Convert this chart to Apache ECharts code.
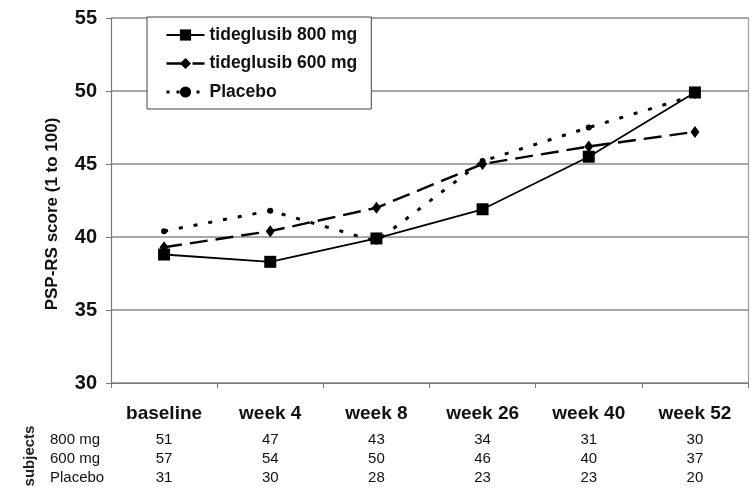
<!DOCTYPE html>
<html>
<head>
<meta charset="utf-8">
<script src="https://cdn.jsdelivr.net/npm/echarts@6/dist/echarts.min.js"></script>
<style>
html,body{margin:0;padding:0;background:#fff;}
#chart{width:754px;height:489px;}
</style>
</head>
<body>
<div id="chart"></div>
<script>
// ---- data ----
var categories = ['baseline', 'week 4', 'week 8', 'week 26', 'week 40', 'week 52'];
var tide800 = [38.8, 38.3, 39.9, 41.9, 45.5, 49.9];
var tide600 = [39.3, 40.4, 42.0, 45.0, 46.2, 47.2];
var placebo = [40.4, 41.8, 39.7, 45.2, 47.5, 49.7];
var subjects800 = ['51', '47', '43', '34', '31', '30'];
var subjects600 = ['57', '54', '50', '46', '40', '37'];
var subjectsPlacebo = ['31', '30', '28', '23', '23', '20'];
var rowLabels = ['800 mg', '600 mg', 'Placebo'];
var seriesNames = ['tideglusib 800 mg', 'tideglusib 600 mg', 'Placebo'];
var yTicks = {min: 30, max: 55, interval: 5};

var FONT = '"Liberation Sans", Arial, sans-serif';
var chart = echarts.init(document.getElementById('chart'));

var dash600 = [18, 8];
var dotPlacebo = [4, 11];

function countAxis(data, offset) {
  return {
    type: 'category', data: data, position: 'bottom', offset: offset, gridIndex: 0,
    boundaryGap: true,
    axisLine: {show: false}, axisTick: {show: false}, splitLine: {show: false},
    axisLabel: {interval: 0, margin: 8, fontSize: 15, color: '#111', fontFamily: FONT}
  };
}

var option = {
  animation: false,
  backgroundColor: '#fff',
  grid: {left: 111, right: 6, top: 18, bottom: 106, containLabel: false},
  legend: {
    orient: 'vertical', left: 147, top: 17,
    data: [
      {name: seriesNames[0]},
      {name: seriesNames[1], lineStyle: {type: dash600, width: 2.4, color: '#000'}},
      {name: seriesNames[2], lineStyle: {type: [3, 7], width: 3, color: '#000'}}
    ],
    backgroundColor: '#fff', borderColor: '#444', borderWidth: 1,
    padding: [9, 14, 8, 18], itemGap: 10.5, itemWidth: 38, itemHeight: 14,
    textStyle: {fontSize: 17.5, fontWeight: 'bold', color: '#111', fontFamily: FONT}
  },
  xAxis: [
    {
      type: 'category', data: categories, boundaryGap: true,
      axisLine: {lineStyle: {color: '#777', width: 1.2}},
      axisTick: {show: true, length: 5, lineStyle: {color: '#777'}},
      axisLabel: {interval: 0, margin: 21, fontSize: 19, fontWeight: 'bold', color: '#111', fontFamily: FONT},
      splitLine: {show: false}
    },
    countAxis(subjects800, 41.5),
    countAxis(subjects600, 60.5),
    countAxis(subjectsPlacebo, 79.5)
  ],
  yAxis: [
    {
      type: 'value', min: yTicks.min, max: yTicks.max, interval: yTicks.interval,
      axisLine: {show: true, lineStyle: {color: '#777', width: 1.2}},
      axisTick: {show: true, length: 5, lineStyle: {color: '#777'}},
      axisLabel: {margin: 14, fontSize: 20, fontWeight: 'bold', color: '#111', fontFamily: FONT},
      splitLine: {show: true, lineStyle: {color: '#8a8a8a', width: 1.5}}
    },
    {
      type: 'value', position: 'right', min: yTicks.min, max: yTicks.max, interval: yTicks.interval,
      axisLine: {show: true, lineStyle: {color: '#999', width: 1.2}},
      axisTick: {show: false}, axisLabel: {show: false}, splitLine: {show: false}
    }
  ],
  series: [
    {
      name: seriesNames[0], type: 'line', data: tide800,
      symbol: 'rect', symbolSize: 12,
      lineStyle: {color: '#000', width: 1.8, type: 'solid'},
      itemStyle: {color: '#000'}, z: 4
    },
    {
      name: seriesNames[1], type: 'line', data: tide600,
      symbol: 'diamond', symbolSize: [9, 12],
      lineStyle: {color: '#000', width: 2.4, type: dash600},
      itemStyle: {color: '#000'}, z: 3
    },
    {
      name: seriesNames[2], type: 'line', data: placebo,
      symbol: 'circle', symbolSize: 6,
      lineStyle: {color: '#000', width: 3, type: dotPlacebo},
      itemStyle: {color: '#000'}, z: 2
    }
  ],
  graphic: [
    {type: 'text', x: 52, y: 214, rotation: Math.PI / 2,
     style: {text: 'PSP-RS score (1 to 100)', font: 'bold 17px ' + FONT, fill: '#111', textAlign: 'center', textVerticalAlign: 'middle'}},
    {type: 'text', x: 30, y: 456, rotation: Math.PI / 2,
     style: {text: 'subjects', font: 'bold 15px ' + FONT, fill: '#222', textAlign: 'center', textVerticalAlign: 'middle'}},
    {type: 'text', x: 50, y: 440, style: {text: rowLabels[0], font: '15px ' + FONT, fill: '#111', textAlign: 'left', textVerticalAlign: 'middle'}},
    {type: 'text', x: 50, y: 459, style: {text: rowLabels[1], font: '15px ' + FONT, fill: '#111', textAlign: 'left', textVerticalAlign: 'middle'}},
    {type: 'text', x: 50, y: 478, style: {text: rowLabels[2], font: '15px ' + FONT, fill: '#111', textAlign: 'left', textVerticalAlign: 'middle'}}
  ]
};
chart.setOption(option);
</script>
</body>
</html>
